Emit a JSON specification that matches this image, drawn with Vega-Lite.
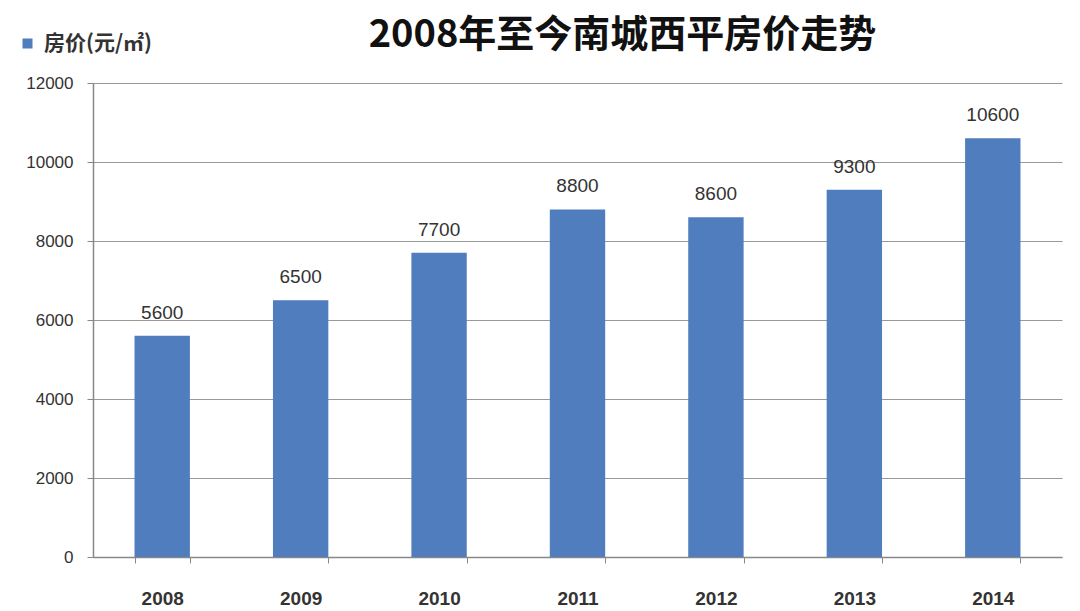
{
  "$schema": "https://vega.github.io/schema/vega-lite/v6.json",
  "autosize": "none",
  "width": 969,
  "height": 474,
  "padding": {"left": 93, "top": 83, "right": 18, "bottom": 54},
  "background": "#ffffff",
  "title": {
    "text": "2008年至今南城西平房价走势",
    "font": "Noto Sans CJK SC",
    "fontSize": 38,
    "fontWeight": "bold",
    "color": "#111111",
    "anchor": "middle",
    "dx": 45,
    "offset": 0,
    "dy": 22
  },
  "data": {
    "values": [
      {"year": "2008", "price": 5600, "series": "房价(元/㎡)"},
      {"year": "2009", "price": 6500, "series": "房价(元/㎡)"},
      {"year": "2010", "price": 7700, "series": "房价(元/㎡)"},
      {"year": "2011", "price": 8800, "series": "房价(元/㎡)"},
      {"year": "2012", "price": 8600, "series": "房价(元/㎡)"},
      {"year": "2013", "price": 9300, "series": "房价(元/㎡)"},
      {"year": "2014", "price": 10600, "series": "房价(元/㎡)"}
    ]
  },
  "encoding": {
    "x": {
      "field": "year",
      "type": "nominal",
      "sort": null,
      "scale": {"paddingInner": 0.6, "paddingOuter": 0.3},
      "axis": {
        "title": null,
        "labelAngle": 0,
        "labelFont": "Liberation Sans",
        "labelFontSize": 19,
        "labelFontWeight": "bold",
        "labelColor": "#333333",
        "labelPadding": 26,
        "tickBand": "extent",
        "tickSize": 6,
        "tickColor": "#888888",
        "domainColor": "#888888",
        "domainWidth": 1.5,
        "grid": false
      }
    },
    "y": {
      "field": "price",
      "type": "quantitative",
      "scale": {"domain": [0, 12000]},
      "axis": {
        "title": null,
        "values": [0, 2000, 4000, 6000, 8000, 10000, 12000],
        "format": "d",
        "labelFont": "Liberation Sans",
        "labelFontSize": 17,
        "labelColor": "#333333",
        "labelPadding": 14,
        "tickSize": 6,
        "tickColor": "#888888",
        "domainColor": "#888888",
        "domainWidth": 1.5,
        "gridColor": "#999999",
        "gridWidth": 1.2
      }
    }
  },
  "layer": [
    {
      "mark": {"type": "bar", "color": "#4F7DBE"},
      "encoding": {
        "color": {
          "field": "series",
          "type": "nominal",
          "scale": {"range": ["#4F7DBE"]},
          "legend": {
            "title": null,
            "orient": "none",
            "legendX": -76,
            "legendY": -50,
            "symbolType": "square",
            "symbolSize": 100,
            "labelFont": "Noto Sans CJK SC",
            "labelFontSize": 21,
            "labelFontWeight": "bold",
            "labelColor": "#333333",
            "labelOffset": 6
          }
        }
      }
    },
    {
      "mark": {"type": "text", "dy": -23, "font": "Liberation Sans", "fontSize": 19, "color": "#333333"},
      "encoding": {
        "text": {"field": "price", "type": "quantitative", "format": "d"}
      }
    }
  ],
  "config": {"view": {"stroke": null}}
}
